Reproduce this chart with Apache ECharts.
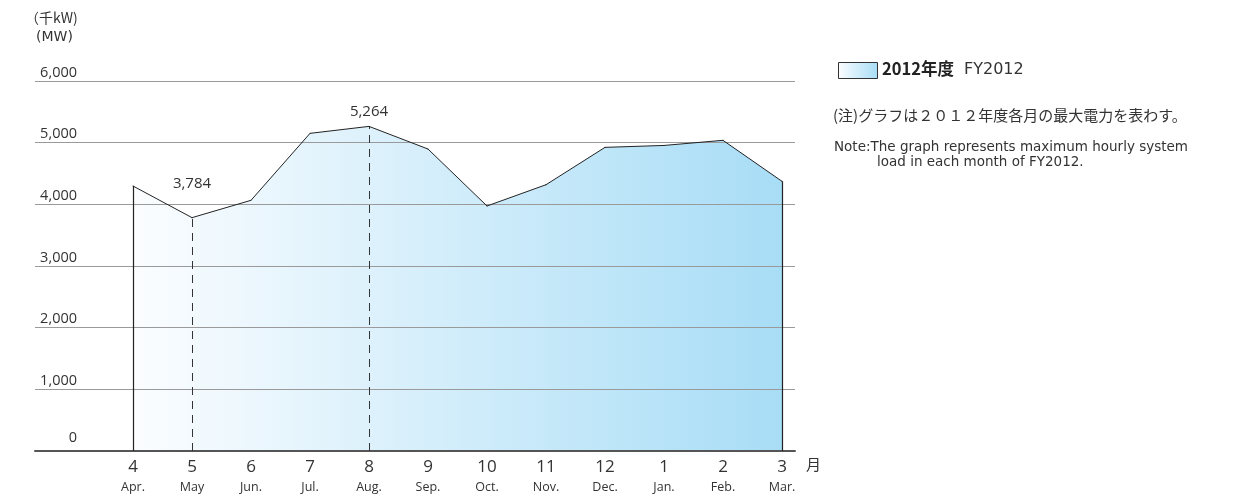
<!DOCTYPE html>
<html><head><meta charset="utf-8">
<script src="https://cdn.jsdelivr.net/npm/echarts@6/dist/echarts.min.js"></script>
<style>html,body{margin:0;padding:0;background:#fff}#c{width:1234px;height:497px}</style>
</head><body><div id="c"></div>
<script>
const categories = ['4','5','6','7','8','9','10','11','12','1','2','3'];
const monthNames = ['Apr.','May','Jun.','Jul.','Aug.','Sep.','Oct.','Nov.','Dec.','Jan.','Feb.','Mar.'];
const values = [4297, 3784, 4065, 5151, 5264, 4897, 3973, 4318, 4924, 4955, 5038, 4373];
const labeledIdx = [1, 4];
const dashedIdx = [1, 4];
const yMin = 0, yMax = 6000, yStep = 1000;

const chart = echarts.init(document.getElementById('c'), null, {renderer:'canvas'});
const fmt = v => Number(v).toLocaleString('en-US');
const numFont = '"Open Sans", sans-serif';
const jpFont = '"Noto Sans CJK JP", sans-serif';
const noteFont = '"DejaVu Sans", sans-serif';
const TOP = 81, BOTTOM = 46;
const grad = () => new echarts.graphic.LinearGradient(0, 0, 1, 0, [
  {offset: 0, color: '#fbfdff'}, {offset: 1, color: '#a8ddf6'}]);

const lineData = values.map((v, i) => {
  const d = {value: v};
  if (labeledIdx.includes(i)) {
    d.label = {show: true, position: 'top', distance: i === 1 ? 26 : 7,
      formatter: p => fmt(p.value), fontSize: 15, color: '#333', fontFamily: numFont};
  }
  return d;
});
const edgeLines = [0, values.length - 1].map(i => [
  {coord: [categories[i], 0]}, {coord: [categories[i], values[i]]}
]);
const dashLines = dashedIdx.map(i => [
  {coord: [categories[i], 0], lineStyle: {type: [8, 6], color: '#333', width: 1}},
  {coord: [categories[i], values[i]]}
]);

chart.setOption({
  animation: false,
  grid: [
    {left: 35, right: 1234 - 795, top: TOP, bottom: BOTTOM},
    {left: 133, right: 1234 - 782, top: TOP, bottom: BOTTOM}
  ],
  xAxis: [
    {gridIndex: 0, type: 'category', data: [''], z: 4,
     axisLine: {show: true, lineStyle: {color: '#555', width: 2}},
     axisTick: {show: false}, axisLabel: {show: false}, splitLine: {show: false}},
    {gridIndex: 1, type: 'category', data: categories, boundaryGap: false,
     axisLine: {show: false}, axisTick: {show: false}, splitLine: {show: false},
     axisLabel: {margin: 6, interval: 0,
       formatter: (v, i) => '{a|' + v + '}\n{b|' + monthNames[i] + '}',
       rich: {
         a: {fontSize: 17, color: '#333', fontFamily: numFont, lineHeight: 20},
         b: {fontSize: 12.5, color: '#333', fontFamily: numFont, lineHeight: 20}
       }}}
  ],
  yAxis: [
    {gridIndex: 0, type: 'value', min: yMin, max: yMax, interval: yStep, z: 2,
     axisLine: {show: false}, axisTick: {show: false},
     splitLine: {show: true, lineStyle: {color: '#9a9a9a', width: 1}},
     axisLabel: {margin: -42, align: 'right', verticalAlign: 'bottom', padding: [0, 0, 1, 0],
       formatter: v => v === 0 ? '{z|0}' : fmt(v), fontSize: 14.5, color: '#333', fontFamily: numFont,
       rich: {z: {fontSize: 14.5, color: '#333', fontFamily: numFont, padding: [0, 0, 5, 0]}}}},
    {gridIndex: 1, type: 'value', min: yMin, max: yMax, interval: yStep, show: false}
  ],
  series: [
    {type: 'line', xAxisIndex: 1, yAxisIndex: 1, data: values, symbol: 'none', z: 1,
     lineStyle: {width: 0}, areaStyle: {opacity: 1, color: grad()}},
    {type: 'line', xAxisIndex: 1, yAxisIndex: 1, data: lineData, z: 5,
     symbol: 'circle', symbolSize: 1, showSymbol: true, itemStyle: {color: '#222'},
     lineStyle: {color: '#222', width: 1},
     markLine: {silent: true, symbol: 'none', label: {show: false},
       lineStyle: {type: 'solid', color: '#222', width: 1.2},
       data: edgeLines.concat(dashLines)}}
  ],
  graphic: [
    {type: 'text', left: 25, top: 11, style: {text: '（千kW)', fontSize: 14, fill: '#333', fontFamily: jpFont}},
    {type: 'text', left: 36, top: 30, style: {text: '(MW)', fontSize: 14, fill: '#333', fontFamily: noteFont}},
    {type: 'text', left: 806, top: 457, style: {text: '月', fontSize: 15, fill: '#333', fontFamily: jpFont}},
    {type: 'rect', shape: {x: 838.5, y: 62.5, width: 39, height: 16},
     style: {stroke: '#333', lineWidth: 1, fill: grad()}},
    {type: 'text', left: 882, top: 60, style: {text: '2012年度', fontSize: 16.5, fontWeight: 'bold', fill: '#222', fontFamily: jpFont}},
    {type: 'text', left: 964, top: 62, style: {text: 'FY2012', fontSize: 16, fill: '#333', fontFamily: noteFont}},
    {type: 'text', left: 833, top: 108, style: {text: '(注)グラフは２０１２年度各月の最大電力を表わす。', fontSize: 15, fill: '#333', fontFamily: jpFont}},
    {type: 'text', left: 834, top: 140, style: {text: 'Note:The graph represents maximum hourly system', fontSize: 13.5, fill: '#333', fontFamily: noteFont}},
    {type: 'text', left: 877, top: 155, style: {text: 'load in each month of FY2012.', fontSize: 13.5, fill: '#333', fontFamily: noteFont}}
  ]
});
</script></body></html>
